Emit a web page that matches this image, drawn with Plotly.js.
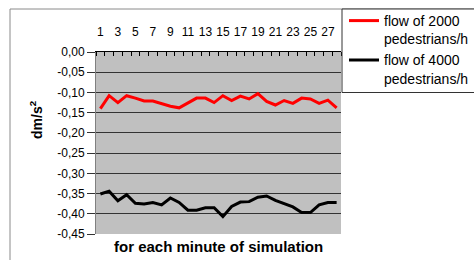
<!DOCTYPE html>
<html>
<head>
<meta charset="utf-8">
<script src="https://cdn.plot.ly/plotly-3.0.1.min.js"></script>
<style>html,body{margin:0;padding:0;background:#fff;}#chart{width:474px;height:260px;}</style>
</head>
<body>
<div id="chart"></div>
<script>
// Data
var minutes = [1,2,3,4,5,6,7,8,9,10,11,12,13,14,15,16,17,18,19,20,21,22,23,24,25,26,27,28];
var flow2000 = [-0.140,-0.108,-0.125,-0.108,-0.114,-0.121,-0.121,-0.128,-0.134,-0.138,-0.126,-0.114,-0.114,-0.125,-0.108,-0.120,-0.109,-0.116,-0.103,-0.122,-0.131,-0.120,-0.127,-0.114,-0.116,-0.127,-0.119,-0.138];
var flow4000 = [-0.351,-0.344,-0.368,-0.353,-0.374,-0.376,-0.372,-0.378,-0.361,-0.372,-0.391,-0.391,-0.385,-0.385,-0.407,-0.382,-0.371,-0.370,-0.359,-0.356,-0.367,-0.375,-0.383,-0.397,-0.397,-0.378,-0.372,-0.372];
var seriesNames = ['flow of 2000<br>pedestrians/h', 'flow of 4000<br>pedestrians/h'];
var xTickVals = [1,3,5,7,9,11,13,15,17,19,21,23,25,27];
var xTickText = ['1','3','5','7','9','11','13','15','17','19','21','23','25','27'];
var yTickVals = [0,-0.05,-0.10,-0.15,-0.20,-0.25,-0.30,-0.35,-0.40,-0.45];
var yTickText = ['0,00','-0,05','-0,10','-0,15','-0,20','-0,25','-0,30','-0,35','-0,40','-0,45'];
var yTitle = 'dm/s<sup>2</sup>';
var xTitle = 'for each minute of simulation';

var FONT = 'Liberation Sans, Arial, sans-serif';
var W = 474, H = 260;
var L = 96, R = 341, T = 52, B = 234;
function px(x){ return (x - L) / (R - L); }
function py(y){ return (B - y) / (B - T); }

var traces = [
  {x: minutes, y: flow2000, name: seriesNames[0], type: 'scatter', mode: 'lines',
   line: {color: '#ff0000', width: 3}},
  {x: minutes, y: flow4000, name: seriesNames[1], type: 'scatter', mode: 'lines',
   line: {color: '#000000', width: 3}}
];

var layout = {
  width: W, height: H,
  margin: {l: L, r: W - R, t: T, b: H - B, pad: 0},
  paper_bgcolor: '#ffffff',
  plot_bgcolor: '#c0c0c0',
  font: {family: FONT, size: 12, color: '#000'},
  showlegend: true,
  legend: {
    xref: 'container', yref: 'container',
    x: 344 / W, xanchor: 'left', y: 1 - 5 / H, yanchor: 'top',
    bgcolor: 'rgba(0,0,0,0)', borderwidth: 0,
    font: {family: FONT, size: 14, color: '#000'},
    valign: 'top', itemwidth: 30
  },
  xaxis: {
    type: 'linear', range: [0.5, 28.5], side: 'top',
    tickmode: 'array', tickvals: xTickVals, ticktext: xTickText,
    ticks: '', showgrid: false, zeroline: false,
    showline: true, linecolor: '#000', linewidth: 1,
    ticklabelstandoff: 10,
    tickfont: {family: FONT, size: 12, color: '#000'},
    minor: {ticks: 'inside', tick0: 0.5, dtick: 1, ticklen: 4, tickcolor: '#000', tickwidth: 1, showgrid: false},
    fixedrange: true
  },
  yaxis: {
    range: [-0.45, 0], tickmode: 'array', tickvals: yTickVals, ticktext: yTickText,
    ticks: 'outside', ticklen: 8, tickcolor: '#333', tickwidth: 1,
    showgrid: true, gridcolor: '#333', gridwidth: 1, zeroline: false,
    showline: true, linecolor: '#808080', linewidth: 1,
    tickfont: {family: FONT, size: 12, color: '#000'},
    fixedrange: true
  },
  shapes: [
    {type: 'rect', xref: 'paper', yref: 'paper', x0: px(10), x1: px(520), y0: py(300), y1: py(9),
     line: {color: '#8a8a8a', width: 1}, fillcolor: 'rgba(0,0,0,0)', layer: 'below'},
    {type: 'rect', xref: 'paper', yref: 'paper', x0: px(342), x1: px(520), y0: py(92.5), y1: py(9),
     line: {color: '#333', width: 1}, fillcolor: '#ffffff', layer: 'above'}
  ],
  annotations: [
    {text: yTitle, xref: 'paper', yref: 'paper', x: px(36), y: py(120), textangle: -90,
     showarrow: false, xanchor: 'center', yanchor: 'middle',
     font: {family: FONT, size: 14, color: '#000', weight: 'bold'}},
    {text: xTitle, xref: 'paper', yref: 'paper', x: px(218), y: py(246),
     showarrow: false, xanchor: 'center', yanchor: 'middle',
     font: {family: FONT, size: 15, color: '#000', weight: 'bold'}}
  ]
};

Plotly.newPlot('chart', traces, layout, {staticPlot: true, displayModeBar: false});
</script>
</body>
</html>
